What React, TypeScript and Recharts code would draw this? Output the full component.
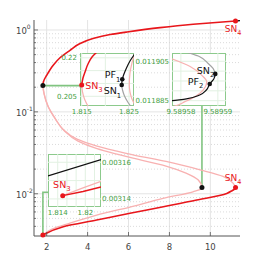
import React from 'react';
import { ComposedChart, Line, XAxis, YAxis, CartesianGrid, ReferenceDot } from 'recharts';

const FONT = 'DejaVu Sans, sans-serif';
const RED = '#e8161b';
const PINK = '#f8b1b1';
const BLACK = '#111111';
const GRAY = '#a3a3a3';
const GREEN_TXT = '#44a044';
const GREEN_BOX = '#8cca8c';
const GREEN_LINK = '#80c480';
const GREEN_GRID = '#e2f1e2';
const AXIS = '#555555';

type Pt = { x: number; y: number };

// ---------- main chart data ----------
const xTicksMain = [2, 4, 6, 8, 10];
const xTickLabelsMain = ['2', '4', '6', '8', '10'];
const yMajorMain = [0.01, 0.1, 1];
const yMajorExp = ['-2', '-1', '0'];
const yMinorMain = [0.004, 0.005, 0.006, 0.007, 0.008, 0.009, 0.02, 0.03, 0.04, 0.05, 0.06, 0.07, 0.08, 0.09, 0.2, 0.3, 0.4, 0.5, 0.6, 0.7, 0.8, 0.9];
const yTicksMain = [...yMinorMain, ...yMajorMain].sort((a, b) => a - b);

const upperRed: Pt[] = [
  { x: 1.815, y: 0.2094 }, { x: 1.825, y: 0.222 }, { x: 1.85, y: 0.236 }, { x: 1.89, y: 0.25 },
  { x: 2.0, y: 0.28 }, { x: 2.32, y: 0.371 }, { x: 2.65, y: 0.458 }, { x: 3.14, y: 0.565 },
  { x: 3.63, y: 0.682 }, { x: 4.26, y: 0.785 }, { x: 5.1, y: 0.879 }, { x: 5.93, y: 0.946 },
  { x: 7.54, y: 1.069 }, { x: 9.16, y: 1.175 }, { x: 11.23, y: 1.288 },
];
const upperBlackTail: Pt[] = [{ x: 11.23, y: 1.288 }, { x: 11.45, y: 1.298 }];

const pinkA: Pt[] = [
  { x: 1.815, y: 0.2094 }, { x: 1.868, y: 0.169 }, { x: 2.064, y: 0.1173 }, { x: 2.406, y: 0.0838 },
  { x: 2.797, y: 0.0615 }, { x: 3.482, y: 0.0465 }, { x: 4.46, y: 0.0382 }, { x: 5.438, y: 0.0332 },
  { x: 6.22, y: 0.0299 }, { x: 7.834, y: 0.0248 }, { x: 9.496, y: 0.0196 }, { x: 10.621, y: 0.0163 },
  { x: 11.11, y: 0.0135 }, { x: 11.232, y: 0.0119 },
];
const pinkB: Pt[] = [
  { x: 1.815, y: 0.2094 }, { x: 1.868, y: 0.1667 }, { x: 2.088, y: 0.1141 }, { x: 2.43, y: 0.0815 },
  { x: 2.846, y: 0.059 }, { x: 3.531, y: 0.044 }, { x: 4.46, y: 0.0356 }, { x: 5.438, y: 0.0305 },
  { x: 6.22, y: 0.0272 }, { x: 7.834, y: 0.0218 }, { x: 8.812, y: 0.01788 }, { x: 9.399, y: 0.01482 },
  { x: 9.5896, y: 0.0119 }, { x: 9.545, y: 0.01141 }, { x: 9.154, y: 0.01058 }, { x: 7.687, y: 0.00879 },
  { x: 6.073, y: 0.00689 }, { x: 4.445, y: 0.0055 }, { x: 3.139, y: 0.00439 }, { x: 2.259, y: 0.00371 },
  { x: 1.815, y: 0.00314 },
];
const lowerRed: Pt[] = [
  { x: 1.815, y: 0.00314 }, { x: 2.812, y: 0.00396 }, { x: 4.445, y: 0.00478 }, { x: 6.073, y: 0.00577 },
  { x: 7.702, y: 0.00694 }, { x: 9.335, y: 0.00838 }, { x: 10.802, y: 0.01011 }, { x: 11.06, y: 0.0109 },
  { x: 11.18, y: 0.0114 }, { x: 11.232, y: 0.0119 },
];
const linkA: Pt[] = [{ x: 1.815, y: 0.2094 }, { x: 3.628, y: 0.2094 }];
const linkB: Pt[] = [{ x: 9.5896, y: 0.0119 }, { x: 9.5896, y: 0.118 }];
const linkC: Pt[] = [{ x: 1.815, y: 0.00314 }, { x: 1.815, y: 0.01042 }, { x: 2.064, y: 0.01042 }];

const mainBlackDots: Pt[] = [{ x: 1.815, y: 0.2094 }, { x: 9.5896, y: 0.0119 }];
const sn4Upper: Pt = { x: 11.23, y: 1.288 };
const sn4Lower: Pt = { x: 11.232, y: 0.0119 };
const sn3Lower: Pt = { x: 1.815, y: 0.00314 };

// ---------- inset 1 (SN3 / PF1 / SN1) ----------
const in1X = [1.815, 1.825];
const in1Y = [0.205, 0.22];
const in1GridX = [1.815, 1.82, 1.825];
const in1GridY = [0.205, 0.21, 0.215, 0.22];
const red1: Pt[] = [
  { x: 1.815, y: 0.2094 }, { x: 1.81527, y: 0.21213 }, { x: 1.8157, y: 0.21447 }, { x: 1.81633, y: 0.21758 },
  { x: 1.81718, y: 0.22031 }, { x: 1.81845, y: 0.22265 },
];
const pink1: Pt[] = [
  { x: 1.815, y: 0.2094 }, { x: 1.81517, y: 0.20668 }, { x: 1.81559, y: 0.20395 }, { x: 1.81633, y: 0.20122 },
  { x: 1.81675, y: 0.20005 },
];
const black1: Pt[] = [
  { x: 1.82346, y: 0.2094 }, { x: 1.82358, y: 0.21162 }, { x: 1.82394, y: 0.21369 }, { x: 1.82447, y: 0.21603 },
  { x: 1.82521, y: 0.21875 }, { x: 1.82606, y: 0.22109 }, { x: 1.8265, y: 0.2222 },
];
const gray1: Pt[] = [
  { x: 1.82346, y: 0.2094 }, { x: 1.82363, y: 0.20745 }, { x: 1.82405, y: 0.20512 }, { x: 1.82468, y: 0.20297 },
  { x: 1.82542, y: 0.20103 }, { x: 1.8258, y: 0.2003 },
];
const pinkR1: Pt[] = [
  { x: 1.82627, y: 0.22187 }, { x: 1.82563, y: 0.21797 }, { x: 1.82521, y: 0.21408 }, { x: 1.82506, y: 0.2094 },
  { x: 1.82521, y: 0.20668 }, { x: 1.82557, y: 0.20422 }, { x: 1.82627, y: 0.20161 },
];
const sn3Up: Pt = { x: 1.815, y: 0.2094 };
const pf1: Pt = { x: 1.82358, y: 0.21162 };
const sn1: Pt = { x: 1.82346, y: 0.2094 };

// ---------- inset 2 (SN2 / PF2) ----------
const in2X = [9.58958, 9.58959];
const in2Y = [0.011885, 0.011905];
const in2GridX = [9.58958, 9.58959];
const in2GridY = [0.011885, 0.01189, 0.011895, 0.0119, 0.011905];
const gray2: Pt[] = [
  { x: 9.5895814, y: 0.0119097 }, { x: 9.5895824, y: 0.0119091 }, { x: 9.5895851, y: 0.0119073 },
  { x: 9.5895873, y: 0.011904 }, { x: 9.5895887, y: 0.0119014 }, { x: 9.5895893, y: 0.0118986 },
];
const black2: Pt[] = [
  { x: 9.5895893, y: 0.0118986 }, { x: 9.5895889, y: 0.011896 }, { x: 9.5895878, y: 0.0118935 },
  { x: 9.5895869, y: 0.0118904 }, { x: 9.5895851, y: 0.0118879 }, { x: 9.5895815, y: 0.0118859 },
  { x: 9.5895777, y: 0.011885 }, { x: 9.589577, y: 0.0118848 },
];
const pink2: Pt[] = [
  { x: 9.589577, y: 0.0119066 }, { x: 9.5895825, y: 0.0119023 }, { x: 9.5895856, y: 0.011898 },
  { x: 9.589587, y: 0.0118946 }, { x: 9.589586, y: 0.0118904 }, { x: 9.5895838, y: 0.011887 },
  { x: 9.5895811, y: 0.0118845 }, { x: 9.5895784, y: 0.0118823 }, { x: 9.5895778, y: 0.011882 },
];
const sn2: Pt = { x: 9.5895893, y: 0.0118986 };
const pf2: Pt = { x: 9.5895878, y: 0.0118935 };

// ---------- inset 3 (lower SN3) ----------
const in3X = [1.814, 1.82];
const in3Y = [0.00314, 0.00316];
const in3GridX = [1.814, 1.816, 1.818, 1.82, 1.822];
const in3GridY = [0.00314, 0.00315, 0.00316];
const black3: Pt[] = [{ x: 1.81189, y: 0.0031526 }, { x: 1.82341, y: 0.0031614 }];
const red3: Pt[] = [{ x: 1.81509, y: 0.0031418 }, { x: 1.8195, y: 0.0031441 }, { x: 1.82341, y: 0.0031465 }];
const pink3: Pt[] = [{ x: 1.81509, y: 0.0031418 }, { x: 1.8195, y: 0.003146 }, { x: 1.82341, y: 0.0031496 }];
const sn3Low: Pt = { x: 1.81509, y: 0.0031418 };

// ---------- helpers ----------
const YTickMain = (props: any) => {
  const { x, y, payload } = props;
  const idx = yMajorMain.indexOf(payload.value);
  const major = idx >= 0;
  return (
    <g>
      <line x1={x} x2={x + (major ? 4 : 2)} y1={y} y2={y} stroke={AXIS} strokeWidth={0.8} />
      {major && (
        <text x={x - 18} y={y + 4} fontSize={8.5} fill="#444" fontFamily={FONT}>
          10<tspan dy={-4.5} fontSize={6}>{yMajorExp[idx]}</tspan>
        </text>
      )}
    </g>
  );
};

const XTickMain = (props: any) => {
  const { x, y, payload } = props;
  const idx = xTicksMain.indexOf(payload.value);
  return (
    <g>
      <line x1={x} x2={x} y1={y} y2={y - 4} stroke={AXIS} strokeWidth={0.8} />
      <text x={x} y={y + 14} fontSize={8.5} fill="#444" fontFamily={FONT} textAnchor="middle">
        {xTickLabelsMain[idx]}
      </text>
    </g>
  );
};

const makeShape = (color: string, r: number, label?: string, sub?: string, dx = 0, dy = 0, labelColor?: string, fs = 9.5) =>
  (p: any) => (
    <g>
      <circle cx={p.cx} cy={p.cy} r={r} fill={color} />
      {label && (
        <text x={p.cx + dx} y={p.cy + dy} fontSize={fs} fill={labelColor || color} fontFamily={FONT}>
          {label}
          <tspan dy={3.5} fontSize={fs * 0.72}>{sub}</tspan>
        </text>
      )}
    </g>
  );

const series = (data: Pt[], color: string, width: number, type: any = 'monotoneY') => (
  <Line data={data} dataKey="y" type={type} stroke={color} strokeWidth={width} dot={false} activeDot={false} isAnimationActive={false} />
);

function Inset(props: {
  left: number; top: number; boxW: number; boxH: number; yAxisW: number; yOrient: 'left' | 'right'; rightPad: number;
  xDomain: number[]; yDomain: number[]; xTicks: number[]; yTicks: number[]; gridX: number[]; gridY: number[];
  children: React.ReactNode;
}) {
  const { left, top, boxW, boxH, yAxisW, yOrient, rightPad } = props;
  const width = boxW + yAxisW + rightPad;
  const height = boxH + 14;
  const boxLeft = yOrient === 'left' ? yAxisW : 0;
  const tickStyle = { fontSize: 7, fill: GREEN_TXT, fontFamily: FONT };
  return (
    <div style={{ position: 'absolute', left, top, width, height }}>
      <div style={{ position: 'absolute', left: boxLeft, top: 0, width: boxW, height: boxH, background: '#fff', boxSizing: 'border-box', border: `1px solid ${GREEN_BOX}` }} />
      <div style={{ position: 'absolute', left: 0, top: 0 }}>
        <ComposedChart width={width} height={height} margin={{ top: 0, right: rightPad, bottom: 0, left: 0 }}>
          <CartesianGrid horizontalValues={props.gridY} verticalValues={props.gridX} stroke={GREEN_GRID} strokeWidth={1} />
          <XAxis type="number" dataKey="x" domain={props.xDomain} allowDataOverflow ticks={props.xTicks} interval={0}
            height={14} tickLine={false} axisLine={false} tickSize={0} tickMargin={3} tick={tickStyle}
            tickFormatter={(v: number) => String(v)} />
          <YAxis type="number" dataKey="y" orientation={yOrient} domain={props.yDomain} allowDataOverflow ticks={props.yTicks} interval={0}
            width={yAxisW} tickLine={false} axisLine={false} tickSize={0} tickMargin={yOrient === 'left' ? 3 : 1} tick={tickStyle}
            tickFormatter={(v: number) => String(v)} />
          {props.children}
        </ComposedChart>
      </div>
    </div>
  );
}

export default function App() {
  return (
    <div style={{ position: 'absolute', left: 0, top: 0, width: 266, height: 266, background: '#fff', fontFamily: FONT }}>
      <div style={{ position: 'absolute', left: 0, top: 0 }}>
        <ComposedChart width={266} height={266} margin={{ top: 20, right: 26, left: 0, bottom: 0 }}>
          <CartesianGrid horizontalValues={yMajorMain} verticalValues={xTicksMain} stroke="#e4e4e4" strokeWidth={1} />
          <CartesianGrid vertical={false} horizontalValues={yMinorMain} stroke="#d2d2d2" strokeDasharray="1 2" strokeWidth={0.8} />
          <XAxis type="number" dataKey="x" domain={[1.38, 11.45]} allowDataOverflow ticks={xTicksMain} interval={0}
            height={30} tickLine={false} tickSize={0} tickMargin={0} axisLine={{ stroke: AXIS }} tick={<XTickMain />} />
          <YAxis type="number" dataKey="y" scale="log" domain={[0.00305, 1.324]} allowDataOverflow ticks={yTicksMain} interval={0}
            width={34} tickLine={false} tickSize={0} tickMargin={0} axisLine={{ stroke: AXIS }} tick={<YTickMain />} />
          {series(linkA, GREEN_LINK, 1.6, 'linear')}
          {series(linkB, GREEN_LINK, 1.6, 'linear')}
          {series(linkC, GREEN_LINK, 1.6, 'linear')}
          {series(pinkA, PINK, 1.3)}
          {series(pinkB, PINK, 1.3)}
          {series(lowerRed, RED, 1.6)}
          {series(upperBlackTail, BLACK, 1.3, 'linear')}
          {series(upperRed, RED, 1.6)}
          {mainBlackDots.map((d, i) => (
            <ReferenceDot key={'bd' + i} x={d.x} y={d.y} r={2.5} shape={makeShape(BLACK, 2.5)} />
          ))}
          <ReferenceDot x={sn4Upper.x} y={sn4Upper.y} r={2.5} shape={makeShape(RED, 2.5, 'SN', '4', -10.8, 11, RED, 9)} />
          <ReferenceDot x={sn4Lower.x} y={sn4Lower.y} r={2.5} shape={makeShape(RED, 2.5, 'SN', '4', -10.8, -7, RED, 9)} />
          <ReferenceDot x={sn3Lower.x} y={sn3Lower.y} r={2.5} shape={makeShape(RED, 2.5)} />
        </ComposedChart>
      </div>

      <Inset left={50} top={53} boxW={54} boxH={53} yAxisW={30} yOrient="left" rightPad={12}
        xDomain={[1.81464, 1.82606]} yDomain={[0.20122, 0.22187]} xTicks={in1X} yTicks={in1Y} gridX={in1GridX} gridY={in1GridY}>
        {series(pinkR1, PINK, 1.2)}
        {series(pink1, PINK, 1.2)}
        {series(gray1, GRAY, 1.2)}
        {series(black1, BLACK, 1.2)}
        {series(red1, RED, 1.5)}
        <ReferenceDot x={sn3Up.x} y={sn3Up.y} r={2.5} shape={makeShape(RED, 2.5, 'SN', '3', 3.5, 3.5, RED, 9.5)} />
        <ReferenceDot x={pf1.x} y={pf1.y} r={2.5} shape={makeShape(BLACK, 2.3, 'PF', '1', -17.5, -1, BLACK, 9.5)} />
        <ReferenceDot x={sn1.x} y={sn1.y} r={2.5} shape={makeShape(BLACK, 2.3, 'SN', '1', -18, 9.3, BLACK, 9.5)} />
      </Inset>

      <Inset left={134} top={53} boxW={54} boxH={53} yAxisW={38} yOrient="left" rightPad={12}
        xDomain={[9.5895776, 9.5895922]} yDomain={[0.0118823, 0.0119092]} xTicks={in2X} yTicks={in2Y} gridX={in2GridX} gridY={in2GridY}>
        {series(pink2, PINK, 1.2)}
        {series(gray2, GRAY, 1.2)}
        {series(black2, BLACK, 1.2)}
        <ReferenceDot x={sn2.x} y={sn2.y} r={2.5} shape={makeShape(BLACK, 2.3, 'SN', '2', -18.5, 0, BLACK, 9.5)} />
        <ReferenceDot x={pf2.x} y={pf2.y} r={2.5} shape={makeShape(BLACK, 2.3, 'PF', '2', -22, 1, BLACK, 9.5)} />
      </Inset>

      <Inset left={48} top={154} boxW={53} boxH={53} yAxisW={32} yOrient="right" rightPad={0}
        xDomain={[1.81189, 1.82341]} yDomain={[0.0031356, 0.0031645]} xTicks={in3X} yTicks={in3Y} gridX={in3GridX} gridY={in3GridY}>
        {series(black3, BLACK, 1.2, 'linear')}
        {series(pink3, PINK, 1.2, 'linear')}
        {series(red3, RED, 1.5, 'linear')}
        <ReferenceDot x={sn3Low.x} y={sn3Low.y} r={2.5} shape={makeShape(RED, 2.5, 'SN', '3', -9.6, -7.7, RED, 9.5)} />
      </Inset>
    </div>
  );
}
